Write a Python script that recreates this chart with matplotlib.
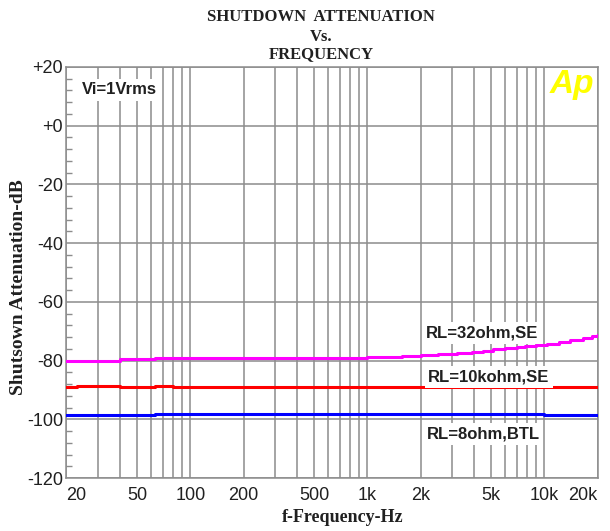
import numpy as np
import matplotlib.pyplot as plt
from matplotlib.ticker import FixedLocator, NullFormatter, LogLocator


# Measured curves (Hz, dB)
mag_f  = [20, 23, 40, 63, 1000, 1570, 2000, 2500, 3200, 3900, 4500, 5100, 6000,
          7000, 7800, 9000, 10300, 12000, 14000, 16500, 18500, 20000]
mag_db = [-80.3, -80.0, -79.5, -79.0, -78.9, -78.4, -78.2, -77.9, -77.5, -77.1, -76.7,
          -76.2, -75.8, -75.4, -75.1, -74.6, -74.2, -73.6, -73.1, -72.3, -71.7, -71.2]

red_f  = [20, 23, 40, 63, 80, 20000]
red_db = [-89.0, -88.5, -89.0, -88.5, -89.0, -89.0]

blue_f  = [20, 63, 10000, 20000]
blue_db = [-98.5, -98.1, -98.5, -98.5]

x_ticks  = [20, 50, 100, 200, 500, 1000, 2000, 5000, 10000, 20000]
x_labels = ['20', '50', '100', '200', '500', '1k', '2k', '5k', '10k', '20k']
y_ticks  = [20, 0, -20, -40, -60, -80, -100, -120]
y_labels = ['+20', '+0', '-20', '-40', '-60', '-80', '-100', '-120']

GRID = '#8c8c8c'

fig = plt.figure(figsize=(6.10, 5.31), dpi=100)
ax = fig.add_axes([0.109, 0.0998, 0.871, 0.7742])

ax.plot(mag_f, mag_db, color='#ff00ff', lw=2.2, drawstyle='steps-post', zorder=3)
ax.plot(red_f, red_db, color='#ff0000', lw=2.2, drawstyle='steps-post', zorder=3)
ax.plot(blue_f, blue_db, color='#0000ff', lw=2.2, drawstyle='steps-post', zorder=3)

ax.set_xscale('log')
ax.set_xlim(20, 20000)
ax.set_ylim(-120, 20)

# grid: log minor lines on x, every 20 dB on y
ax.xaxis.set_major_locator(LogLocator(base=10, subs=np.arange(1, 10)))
ax.xaxis.set_major_formatter(NullFormatter())
ax.xaxis.set_minor_formatter(NullFormatter())
ax.grid(True, which='major', axis='x', color=GRID, lw=1.1)
ax.set_yticks(y_ticks)
ax.set_yticklabels(y_labels, fontsize=13, family='Liberation Sans')
ax.grid(True, which='major', axis='y', color=GRID, lw=1.1)
ax.yaxis.set_minor_locator(FixedLocator(np.arange(-120, 21, 4)))
ax.tick_params(axis='y', which='major', length=0, pad=2.5, colors='#202020')
ax.tick_params(axis='y', which='minor', direction='in', length=4.5, color=GRID, width=1)
ax.tick_params(axis='x', which='both', length=0)

for f, lab in zip(x_ticks, x_labels):
    ha = 'left' if f == 20 else ('right' if f == 20000 else 'center')
    ax.text(f, -0.022, lab, transform=ax.get_xaxis_transform(), ha=ha, va='top',
            fontsize=13, family='Liberation Sans', color='#202020')

for s in ax.spines.values():
    s.set_color(GRID)
    s.set_linewidth(1.1)

# annotations (white boxes hide the grid behind them)
box = dict(boxstyle='square,pad=0.2', fc='white', ec='none')
bold = dict(fontsize=12, fontweight='bold', family='Liberation Sans', color='#202020',
            bbox=box, zorder=4)
ax.text(0.029, 0.944, 'Vi=1Vrms', transform=ax.transAxes, ha='left', va='center', **bold)
ax.text(4470, -70.6, 'RL=32ohm,SE', ha='center', va='center', **bold)
ax.text(4850, -85.7, 'RL=10kohm,SE', ha='center', va='center', **bold)
ax.text(4520, -105.0, 'RL=8ohm,BTL', ha='center', va='center', **bold)
ax.text(0.994, 0.995, 'Ap', transform=ax.transAxes, ha='right', va='top',
        fontsize=24, fontweight='bold', fontstyle='italic', color='#ffff00',
        family='Liberation Sans')

serif = dict(family='Liberation Serif', fontweight='bold', color='#202020')
fig.text(0.526, 0.968, 'SHUTDOWN  ATTENUATION', ha='center', va='center', fontsize=12, **serif)
fig.text(0.526, 0.930, 'Vs.', ha='center', va='center', fontsize=12, **serif)
fig.text(0.526, 0.899, 'FREQUENCY', ha='center', va='center', fontsize=12, **serif)
fig.text(0.561, 0.0245, 'f-Frequency-Hz', ha='center', va='center', fontsize=13, **serif)
fig.text(0.031, 0.4595, 'Shutsown Attenuation-dB', ha='center', va='center',
         rotation=90, fontsize=14, **serif)

fig.savefig('out.png', dpi=100, facecolor='white')
